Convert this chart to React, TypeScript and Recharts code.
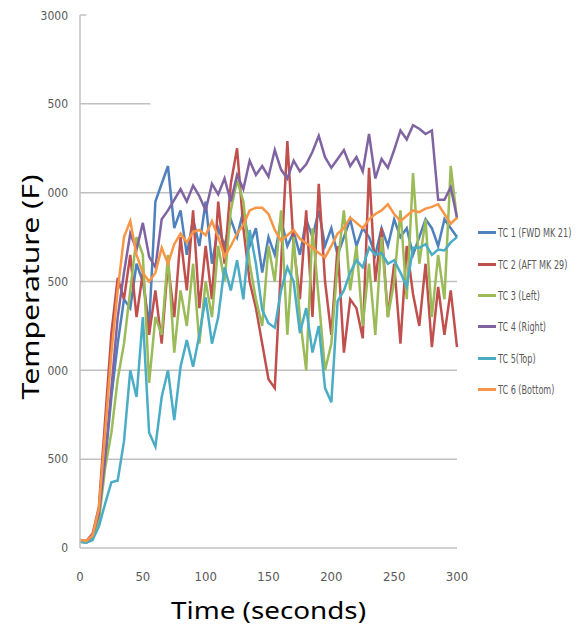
import { CartesianGrid, Legend, Line, LineChart, ReferenceLine, XAxis, YAxis } from "recharts";

// time in seconds, one reading every 5 s
const TIME = [
  0, 5, 10, 15, 20, 25, 30, 35, 40, 45, 50, 55, 60, 65, 70, 75, 80, 85, 90, 95, 100, 105, 110, 115, 120,
  125, 130, 135, 140, 145, 150, 155, 160, 165, 170, 175, 180, 185, 190, 195, 200, 205, 210, 215, 220, 225,
  230, 235, 240, 245, 250, 255, 260, 265, 270, 275, 280, 285, 290, 295, 300,
];

const TC1 = [
  40, 35, 60, 200, 480, 850, 1150, 1400, 1350, 1600, 1500, 1250, 1950, 2050, 2150, 1800, 1900, 1650, 1850,
  1700, 1950, 1600, 1800, 1700, 1850, 1750, 1900, 1700, 1800, 1550, 1750, 1650, 1850, 1700, 1780, 1650, 1850,
  1750, 1900, 1700, 1800, 1650, 1750, 1850, 1700, 1800, 1750, 1650, 1800, 1700, 1850, 1750, 1800, 1650, 1750,
  1850, 1800, 1700, 1850, 1800, 1750,
];
const TC2 = [
  45, 40, 80, 230, 720, 1210, 1520, 1400, 1650, 1300, 1550, 1200, 1450, 1150, 1600, 1300, 1750, 1450, 1900,
  1350, 1700, 1400, 1950, 1600, 2050, 2250, 1800, 1500, 1350, 1150, 950, 900, 1600, 2290, 1700, 1400, 1900,
  1300, 2050, 1500, 1200, 1700, 1100, 1400, 1350, 1180, 2140, 1500, 1800, 1300, 1600, 1150, 1700, 1430, 1250,
  1600, 1130, 1470, 1200, 1450, 1130,
];
const TC3 = [
  35, 30, 50, 150, 450, 650, 950, 1150, 1450, 1750, 1650, 930, 1300, 1200, 1650, 1100, 1450, 1250, 1600, 1150,
  1500, 1300, 1700, 1500, 1900, 2070, 1950, 1600, 1400, 1250, 1700, 1500, 1900, 1200, 1750, 1300, 1000, 1800,
  1400, 1000, 1150, 1600, 1900, 1450, 1700, 1250, 1600, 1200, 1750, 1300, 1500, 1900, 1400, 2110, 1600, 1850,
  1300, 1650, 1400, 2150, 1850,
];
const TC4 = [
  40, 35, 70, 190, 500, 900, 1300, 1550, 1770, 1680, 1830, 1640, 1580, 1850, 1900, 1960, 2020, 1950, 2040,
  1980, 1900, 2050, 1990, 2080, 1950, 2100, 2020, 2180, 2100, 2150, 2090, 2240, 2130, 2080, 2180, 2120, 2160,
  2230, 2320, 2200, 2140, 2190, 2240, 2150, 2200, 2120, 2330, 2080, 2190, 2140, 2240, 2350, 2300, 2380, 2360,
  2330, 2350, 1960, 1960, 2030, 1860,
];
const TC5 = [
  35, 30, 45, 120, 250, 370, 380, 600, 1000, 850, 1300, 650, 570, 850, 1000, 720, 1020, 1170, 1020, 1200,
  1410, 1150, 1300, 1580, 1450, 1620, 1400, 1790, 1600, 1340, 1265, 1240, 1450, 1580, 1500, 1210, 1350, 1100,
  1250, 900, 820, 1390, 1450, 1550, 1620, 1580, 1690, 1650, 1660, 1600, 1620, 1550, 1470, 1690, 1690, 1710,
  1650, 1680, 1675, 1720, 1750,
];
const TC6 = [
  45, 40, 70, 220, 650, 1100, 1450, 1750, 1840, 1650, 1550, 1500, 1550, 1690, 1600, 1710, 1770, 1720, 1780,
  1790, 1760, 1840, 1750, 1640, 1700, 1770, 1820, 1900, 1915, 1915, 1880, 1790, 1730, 1760, 1790, 1740, 1715,
  1690, 1660, 1635, 1700, 1770, 1800, 1860, 1830, 1800, 1850, 1880, 1900, 1935, 1880, 1840, 1870, 1900, 1890,
  1910, 1920, 1935, 1880, 1825, 1860,
];

const SERIES = [
  { key: "tc1", name: "TC 1 (FWD MK 21)", values: TC1, color: "#4F81BD" },
  { key: "tc2", name: "TC 2 (AFT MK 29)", values: TC2, color: "#C0504D" },
  { key: "tc3", name: "TC 3 (Left)", values: TC3, color: "#9BBB59" },
  { key: "tc4", name: "TC 4 (Right)", values: TC4, color: "#8064A2" },
  { key: "tc5", name: "TC 5(Top)", values: TC5, color: "#4BACC6" },
  { key: "tc6", name: "TC 6 (Bottom)", values: TC6, color: "#F79646" },
];

const Y_TICKS = [0, 500, 1000, 1500, 2000, 2500, 3000];
// labels as they appear (left parts hidden in the source image)
const Y_TICK_LABELS = ["0", "500", "000", "500", "000", "500", "3000"];
const X_TICKS = [0, 50, 100, 150, 200, 250, 300];

const data = TIME.map((t, i) => {
  const row: Record<string, number> = { t };
  SERIES.forEach((s) => (row[s.key] = s.values[i]));
  return row;
});

const tickFont = "'DejaVu Sans Condensed', 'Liberation Sans Narrow', sans-serif";
const titleFont = "'Noto Sans', 'Open Sans', sans-serif";

function LegendList() {
  return (
    <ul style={{ listStyle: "none", margin: 0, padding: 0 }}>
      {SERIES.map((s) => (
        <li key={s.key} style={{ display: "flex", alignItems: "center", height: 31.4 }}>
          <span style={{ width: 18, height: 3, background: s.color, display: "inline-block", marginRight: 2, flex: "none" }} />
          <span
            style={{
              fontFamily: tickFont,
              fontSize: 12.5,
              color: "#595959",
              whiteSpace: "nowrap",
              display: "inline-block",
              transform: "scaleX(0.72)",
              transformOrigin: "left center",
            }}
          >
            {s.name}
          </span>
        </li>
      ))}
    </ul>
  );
}

export default function App() {
  return (
    <div style={{ width: 575, height: 625 }}>
      <LineChart width={575} height={625} data={data} margin={{ top: 7, right: 126, bottom: 35, left: 27 }}>
        <CartesianGrid horizontal vertical={false} horizontalValues={[500, 1000, 1500, 2000]} stroke="#c0c0c0" strokeWidth={1.5} />
        <ReferenceLine segment={[{ x: 0, y: 2500 }, { x: 56, y: 2500 }]} stroke="#c0c0c0" strokeWidth={1.5} ifOverflow="visible" />
        <ReferenceLine segment={[{ x: 0, y: 3000 }, { x: 5, y: 3000 }]} stroke="#c0c0c0" strokeWidth={1.5} ifOverflow="visible" />
        <XAxis
          dataKey="t"
          type="number"
          domain={[0, 300]}
          ticks={X_TICKS}
          height={50}
          axisLine={{ stroke: "#c0c0c0", strokeWidth: 1.5 }}
          tickLine={false}
          tickSize={6}
          tickMargin={18}
          tick={{ fill: "#595959", fontSize: 13, fontFamily: tickFont }}
          label={(props: any) => {
            const vb = props.viewBox;
            return (
              <text
                x={vb.x + vb.width / 2}
                y={613 - 8}
                textAnchor="middle"
                dominantBaseline="middle"
                fontSize={23}
                fontWeight={400}
                fontFamily={titleFont}
                fill="#000"
                textLength={195}
                lengthAdjust="spacingAndGlyphs"
              >
                Time (seconds)
              </text>
            );
          }}
        />
        <YAxis
          type="number"
          domain={[0, 3000]}
          ticks={Y_TICKS}
          width={45}
          axisLine={{ stroke: "#c0c0c0", strokeWidth: 1.5 }}
          tickLine={false}
          tickSize={6}
          tickMargin={6}
          tickFormatter={(v: number) => Y_TICK_LABELS[Y_TICKS.indexOf(v)]}
          tick={{ fill: "#595959", fontSize: 12, fontFamily: tickFont }}
          label={() => {
            const cy = 287 - 8;
            const cx = 33 - 8;
            return (
              <text
                x={cx}
                y={cy}
                transform={`rotate(-90 ${cx} ${cy})`}
                textAnchor="middle"
                dominantBaseline="middle"
                fontSize={23}
                fontWeight={400}
                fontFamily={titleFont}
                fill="#000"
                textLength={225}
                lengthAdjust="spacingAndGlyphs"
              >
                Temperature (F)
              </text>
            );
          }}
        />
        <Legend layout="vertical" align="center" verticalAlign="middle" content={<LegendList />} wrapperStyle={{ left: 470, top: 209, width: 105 }} />
        {SERIES.map((s) => (
          <Line
            key={s.key}
            dataKey={s.key}
            name={s.name}
            stroke={s.color}
            strokeWidth={2.5}
            dot={false}
            type="linear"
            isAnimationActive={false}
          />
        ))}
      </LineChart>
    </div>
  );
}
